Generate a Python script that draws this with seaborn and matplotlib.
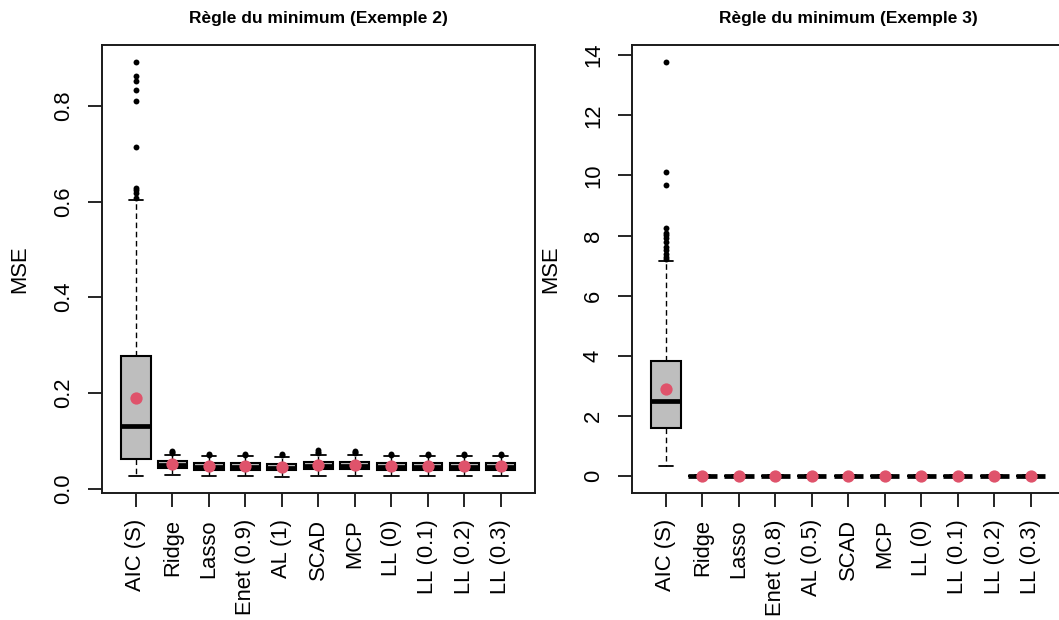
import matplotlib
matplotlib.use("Agg")
import matplotlib.pyplot as plt
import seaborn as sns

# ---- Exemple 2 : summary statistics of MSE per method ----
methods_ex2 = ["AIC (S)", "Ridge", "Lasso", "Enet (0.9)", "AL (1)", "SCAD", "MCP",
               "LL (0)", "LL (0.1)", "LL (0.2)", "LL (0.3)"]
q1_ex2 = [0.061, 0.043, 0.040, 0.040, 0.038, 0.041, 0.041, 0.040, 0.040, 0.040, 0.040]
med_ex2 = [0.131, 0.049, 0.045, 0.046, 0.044, 0.047, 0.047, 0.045, 0.045, 0.045, 0.045]
q3_ex2 = [0.277, 0.057, 0.053, 0.054, 0.052, 0.055, 0.055, 0.053, 0.053, 0.053, 0.053]
lo_ex2 = [0.026, 0.029, 0.026, 0.026, 0.024, 0.026, 0.026, 0.026, 0.026, 0.026, 0.026]
hi_ex2 = [0.603, 0.071, 0.068, 0.068, 0.067, 0.071, 0.071, 0.068, 0.068, 0.068, 0.068]
mean_ex2 = [0.189, 0.051, 0.047, 0.047, 0.046, 0.049, 0.049, 0.047, 0.047, 0.047, 0.047]
outliers_ex2 = [
    [0.892, 0.863, 0.851, 0.834, 0.811, 0.713, 0.628, 0.624, 0.617, 0.608],
    [0.074, 0.077, 0.079],
    [0.071, 0.073],
    [0.071, 0.073],
    [0.070, 0.072],
    [0.074, 0.077, 0.080],
    [0.074, 0.077, 0.079],
    [0.071, 0.073],
    [0.071, 0.073],
    [0.071, 0.073],
    [0.071, 0.073],
]

# ---- Exemple 3 ----
methods_ex3 = ["AIC (S)", "Ridge", "Lasso", "Enet (0.8)", "AL (0.5)", "SCAD", "MCP",
               "LL (0)", "LL (0.1)", "LL (0.2)", "LL (0.3)"]
q1_ex3 = [1.61] + [0.010] * 10
med_ex3 = [2.51] + [0.016] * 10
q3_ex3 = [3.82] + [0.022] * 10
lo_ex3 = [0.33] + [0.002] * 10
hi_ex3 = [7.17] + [0.040] * 10
mean_ex3 = [2.90] + [0.018] * 10
outliers_ex3 = [[13.79, 10.13, 9.70, 8.27, 8.09, 8.01, 7.92, 7.79, 7.62, 7.51, 7.40, 7.29, 7.22]] + [[]] * 10

yticks_ex2 = [0.0, 0.2, 0.4, 0.6, 0.8]
ytick_labels_ex2 = ["0.0", "0.2", "0.4", "0.6", "0.8"]
yticks_ex3 = [0, 2, 4, 6, 8, 10, 12, 14]
ytick_labels_ex3 = ["0", "2", "4", "6", "8", "10", "12", "14"]

sns.set_style("ticks")
plt.rcParams["font.family"] = ["Liberation Sans", "DejaVu Sans"]
plt.rcParams.update({"text.color": "black", "axes.labelcolor": "black",
                     "xtick.color": "black", "ytick.color": "black"})

W, H = 1059, 620
fig = plt.figure(figsize=(W / 100, H / 100), dpi=100)

AX_W, AX_H = 433.3, 447.7
ax_left = fig.add_axes([101.7 / W, (H - 492.7) / H, AX_W / W, AX_H / H])
ax_right = fig.add_axes([631.7 / W, (H - 492.7) / H, AX_W / W, AX_H / H])

BOX_GRAY = "#BEBEBE"
MEAN_RED = "#DF536B"


def draw_panel(ax, title, methods, q1, med, q3, lo, hi, means, outliers,
               yticks, ytick_labels, ylim, ylabel_x):
    positions = list(range(len(methods)))
    stats = []
    for i in positions:
        stats.append(dict(med=med[i], q1=q1[i], q3=q3[i], whislo=lo[i], whishi=hi[i],
                          fliers=[], label=methods[i]))
    ax.bxp(stats, positions=positions, widths=0.8, patch_artist=True, showfliers=False,
           capwidths=0.4,
           boxprops=dict(facecolor=BOX_GRAY, edgecolor="black", linewidth=1.5),
           medianprops=dict(color="black", linewidth=3.4, solid_capstyle="butt"),
           whiskerprops=dict(color="black", linewidth=1.0, linestyle=(0, (4, 2.6))),
           capprops=dict(color="black", linewidth=1.3))

    # outlying observations
    fx, fy = [], []
    for i in positions:
        fx += [i] * len(outliers[i])
        fy += list(outliers[i])
    sns.scatterplot(x=fx, y=fy, ax=ax, color="black", s=18, linewidth=0, zorder=4,
                    legend=False)

    # mean of each method
    sns.scatterplot(x=positions, y=means, ax=ax, color=MEAN_RED, s=78, linewidth=0,
                    zorder=5, legend=False)

    ax.set_xlim(-0.94, 10.94)
    ax.set_ylim(*ylim)
    ax.set_xticks(positions)
    ax.set_xticklabels(methods, rotation=90, fontsize=15.8)
    ax.set_yticks(yticks)
    ax.set_yticklabels(ytick_labels, rotation=90, va="center", fontsize=15.8)
    ax.tick_params(axis="both", direction="out", length=10, width=1.2, colors="black")
    ax.tick_params(axis="x", pad=9)
    ax.tick_params(axis="y", pad=10)
    for sp in ax.spines.values():
        sp.set_visible(True)
        sp.set_color("#1a1a1a")
        sp.set_linewidth(1.4)
    ax.set_ylabel("MSE", fontsize=15.8, color="black")
    ax.yaxis.set_label_coords(ylabel_x, 0.5)
    ax.set_xlabel("")
    ax.set_title(title, fontsize=12.5, fontweight="bold", pad=16, color="black")


draw_panel(ax_left, "Règle du minimum (Exemple 2)", methods_ex2, q1_ex2, med_ex2, q3_ex2,
           lo_ex2, hi_ex2, mean_ex2, outliers_ex2, yticks_ex2, ytick_labels_ex2,
           (-0.0084, 0.927), -0.165)
draw_panel(ax_right, "Règle du minimum (Exemple 3)", methods_ex3, q1_ex3, med_ex3, q3_ex3,
           lo_ex3, hi_ex3, mean_ex3, outliers_ex3, yticks_ex3, ytick_labels_ex3,
           (-0.55, 14.34), -0.162)

fig.savefig("out.png", dpi=100, facecolor="white")
